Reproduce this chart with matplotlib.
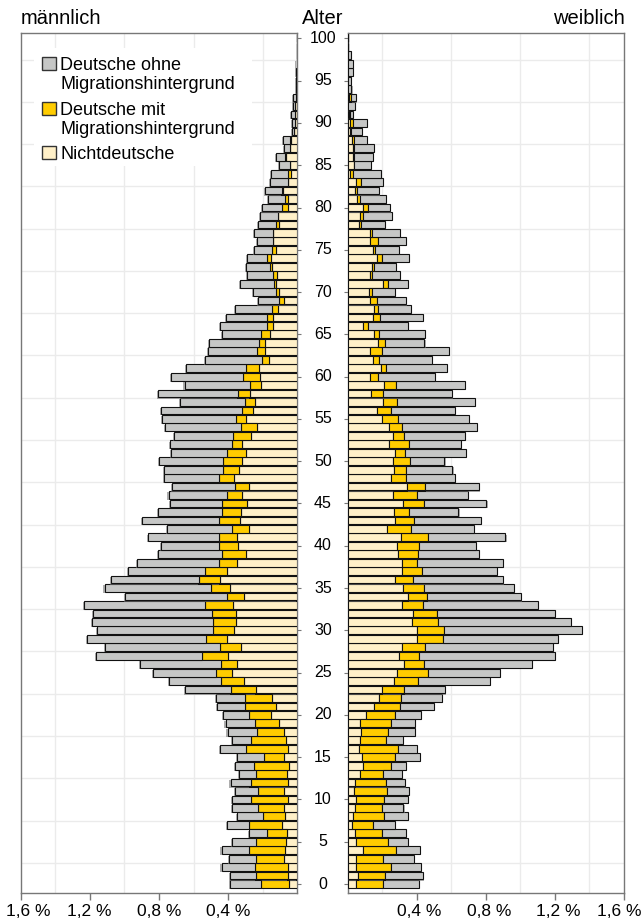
import numpy as np
import matplotlib
matplotlib.use("Agg")
import matplotlib.pyplot as plt
import matplotlib.patheffects as pe
from matplotlib.patches import Rectangle
from matplotlib.transforms import blended_transform_factory, ScaledTranslation

plt.rcParams['font.family'] = ['Liberation Sans', 'DejaVu Sans']

ages = np.arange(0, 101)

# männlich (% of total population)
m_ohne = [
    0.178, 0.155, 0.193, 0.156, 0.160, 0.139, 0.100, 0.122, 0.149, 0.149,
    0.106, 0.135, 0.116, 0.097, 0.112, 0.156, 0.149, 0.106, 0.170, 0.170,
    0.151, 0.164, 0.168, 0.263, 0.301, 0.367, 0.464, 0.612, 0.663, 0.690,
    0.670, 0.701, 0.692, 0.703, 0.589, 0.614, 0.508, 0.448, 0.473, 0.367,
    0.336, 0.410, 0.373, 0.442, 0.367, 0.305, 0.340, 0.363, 0.317, 0.342,
    0.371, 0.323, 0.359, 0.338, 0.440, 0.431, 0.473, 0.373, 0.464, 0.381,
    0.417, 0.342, 0.330, 0.280, 0.290, 0.222, 0.269, 0.236, 0.211, 0.118,
    0.135, 0.195, 0.147, 0.137, 0.116, 0.102, 0.089, 0.106, 0.102, 0.100,
    0.112, 0.097, 0.095, 0.102, 0.099, 0.062, 0.056, 0.033, 0.043, 0.012,
    0.015, 0.023, 0.015, 0.015, 0.003, 0.004, 0.006, 0.003, 0.002, 0.001, 0.0]
m_mit = [
    0.166, 0.184, 0.193, 0.164, 0.207, 0.170, 0.116, 0.191, 0.126, 0.149,
    0.213, 0.149, 0.218, 0.178, 0.203, 0.116, 0.247, 0.205, 0.156, 0.139,
    0.129, 0.174, 0.155, 0.149, 0.135, 0.093, 0.097, 0.151, 0.126, 0.120,
    0.122, 0.135, 0.139, 0.160, 0.102, 0.110, 0.124, 0.126, 0.108, 0.139,
    0.112, 0.108, 0.100, 0.122, 0.112, 0.143, 0.085, 0.081, 0.089, 0.091,
    0.110, 0.106, 0.062, 0.104, 0.091, 0.058, 0.062, 0.058, 0.068, 0.060,
    0.097, 0.075, 0.041, 0.046, 0.035, 0.054, 0.033, 0.037, 0.033, 0.031,
    0.015, 0.010, 0.025, 0.010, 0.023, 0.025, 0.004, 0.003, 0.017, 0.004,
    0.035, 0.015, 0.004, 0.003, 0.014, 0.002, 0.003, 0.002, 0.002, 0.001,
    0.0, 0.0, 0.0, 0.0, 0.0, 0.0, 0.0, 0.0, 0.0, 0.0, 0.0]
m_nicht = [
    0.046, 0.052, 0.052, 0.075, 0.071, 0.066, 0.062, 0.091, 0.071, 0.077,
    0.056, 0.077, 0.052, 0.062, 0.046, 0.075, 0.052, 0.064, 0.077, 0.106,
    0.151, 0.126, 0.145, 0.236, 0.307, 0.375, 0.346, 0.400, 0.323, 0.406,
    0.365, 0.352, 0.352, 0.371, 0.307, 0.390, 0.444, 0.406, 0.346, 0.299,
    0.342, 0.346, 0.280, 0.332, 0.326, 0.290, 0.319, 0.280, 0.365, 0.338,
    0.319, 0.299, 0.317, 0.270, 0.232, 0.294, 0.255, 0.245, 0.274, 0.211,
    0.216, 0.224, 0.162, 0.189, 0.185, 0.158, 0.143, 0.139, 0.114, 0.077,
    0.108, 0.126, 0.116, 0.147, 0.151, 0.124, 0.139, 0.139, 0.106, 0.110,
    0.056, 0.056, 0.085, 0.052, 0.039, 0.043, 0.066, 0.043, 0.039, 0.019,
    0.014, 0.012, 0.012, 0.008, 0.002, 0.002, 0.002, 0.001, 0.001, 0.0, 0.0]

# weiblich
w_ohne = [
    0.205, 0.216, 0.174, 0.178, 0.139, 0.116, 0.139, 0.126, 0.139, 0.122,
    0.137, 0.128, 0.112, 0.112, 0.089, 0.145, 0.106, 0.097, 0.155, 0.139,
    0.151, 0.195, 0.240, 0.240, 0.415, 0.417, 0.620, 0.786, 0.742, 0.668,
    0.798, 0.769, 0.684, 0.667, 0.547, 0.522, 0.522, 0.437, 0.502, 0.354,
    0.328, 0.450, 0.369, 0.390, 0.288, 0.363, 0.294, 0.315, 0.284, 0.269,
    0.201, 0.354, 0.301, 0.354, 0.435, 0.412, 0.373, 0.450, 0.396, 0.398,
    0.328, 0.352, 0.309, 0.384, 0.228, 0.269, 0.232, 0.251, 0.189, 0.166,
    0.133, 0.118, 0.162, 0.129, 0.158, 0.139, 0.164, 0.162, 0.139, 0.166,
    0.126, 0.147, 0.129, 0.129, 0.164, 0.095, 0.108, 0.116, 0.070, 0.062,
    0.081, 0.021, 0.039, 0.029, 0.021, 0.017, 0.029, 0.029, 0.019, 0.0, 0.0]
w_mit = [
    0.158, 0.156, 0.199, 0.158, 0.193, 0.182, 0.153, 0.122, 0.176, 0.158,
    0.166, 0.187, 0.178, 0.131, 0.160, 0.189, 0.226, 0.151, 0.156, 0.176,
    0.166, 0.153, 0.122, 0.126, 0.141, 0.178, 0.120, 0.120, 0.131, 0.147,
    0.160, 0.151, 0.139, 0.122, 0.110, 0.118, 0.106, 0.116, 0.085, 0.116,
    0.131, 0.155, 0.137, 0.106, 0.087, 0.122, 0.141, 0.104, 0.089, 0.071,
    0.099, 0.056, 0.112, 0.060, 0.075, 0.093, 0.083, 0.083, 0.071, 0.066,
    0.048, 0.029, 0.035, 0.071, 0.043, 0.025, 0.029, 0.041, 0.027, 0.039,
    0.017, 0.027, 0.010, 0.010, 0.031, 0.008, 0.043, 0.014, 0.015, 0.019,
    0.029, 0.021, 0.012, 0.025, 0.017, 0.004, 0.008, 0.006, 0.015, 0.008,
    0.017, 0.004, 0.0, 0.010, 0.0, 0.0, 0.0, 0.0, 0.0, 0.0, 0.0]
w_nicht = [
    0.048, 0.062, 0.052, 0.048, 0.087, 0.052, 0.044, 0.025, 0.033, 0.044,
    0.048, 0.039, 0.043, 0.073, 0.091, 0.083, 0.068, 0.071, 0.077, 0.073,
    0.106, 0.151, 0.185, 0.199, 0.269, 0.286, 0.325, 0.296, 0.315, 0.404,
    0.400, 0.373, 0.377, 0.313, 0.348, 0.323, 0.274, 0.313, 0.315, 0.290,
    0.284, 0.309, 0.228, 0.276, 0.267, 0.319, 0.261, 0.344, 0.251, 0.267,
    0.261, 0.276, 0.242, 0.265, 0.238, 0.197, 0.168, 0.203, 0.137, 0.214,
    0.131, 0.193, 0.145, 0.131, 0.174, 0.155, 0.091, 0.145, 0.151, 0.131,
    0.122, 0.207, 0.129, 0.141, 0.168, 0.149, 0.131, 0.129, 0.064, 0.070,
    0.091, 0.054, 0.043, 0.052, 0.015, 0.035, 0.029, 0.033, 0.025, 0.015,
    0.014, 0.008, 0.004, 0.008, 0.002, 0.002, 0.002, 0.002, 0.0, 0.0, 0.0]

series_lines = [["Deutsche ohne", "Migrationshintergrund"],
                ["Deutsche mit", "Migrationshintergrund"],
                ["Nichtdeutsche"]]
x_ticks = [0.4, 0.8, 1.2, 1.6]
x_ticklabels = ["0,4 %", "0,8 %", "1,2 %", "1,6 %"]
age_labels = list(range(0, 101, 5))

C_OHNE = "#c6c7c6"
C_MIT = "#ffcc00"
C_NICHT = "#fff0c8"
EDGE = "#111111"
SPINE = "#777777"
GRID = "#ebebeb"

W, H = 643, 919
fig = plt.figure(figsize=(W / 100, H / 100), dpi=100)

top_px, bot_px = 33.3, 893
ax_l = fig.add_axes([20.5 / W, 1 - bot_px / H, (297.3 - 20.5) / W, (bot_px - top_px) / H])
ax_r = fig.add_axes([347.5 / W, 1 - bot_px / H, (624 - 347.5) / W, (bot_px - top_px) / H])

for ax, ohne, mit, nicht, sdx in ((ax_l, m_ohne, m_mit, m_nicht, -0.8),
                                  (ax_r, w_ohne, w_mit, w_nicht, 0.8)):
    ohne = np.array(ohne); mit = np.array(mit); nicht = np.array(nicht)
    effects = [pe.SimplePatchShadow(offset=(sdx, -0.8), shadow_rgbFace='#777777', alpha=0.6),
               pe.Normal()]
    kw = dict(height=0.92, edgecolor=EDGE, linewidth=0.8, zorder=3)
    for vals, left, col in ((nicht, 0, C_NICHT), (mit, nicht, C_MIT), (ohne, nicht + mit, C_OHNE)):
        bars = ax.barh(ages, vals, left=left, color=col, **kw)
        for b in bars:
            b.set_path_effects(effects)
    ax.set_ylim(-1.06, 100.6)
    ax.set_xticks(np.arange(0, 1.61, 0.2), minor=True)
    ax.set_yticks(np.arange(0, 101, 2.5), minor=True)
    ax.grid(True, which='minor', color=GRID, linewidth=1.0, zorder=0)
    ax.set_axisbelow(True)
    ax.set_xticks(x_ticks)
    ax.set_xticklabels(x_ticklabels, fontsize=12.5)
    ax.set_yticks(age_labels)
    ax.set_yticklabels([])
    ax.tick_params(axis='x', which='major', length=5, width=1, color=SPINE, pad=3)
    ax.tick_params(axis='both', which='minor', length=0)
    for sp in ax.spines.values():
        sp.set_color(SPINE)
        sp.set_linewidth(1.0)

ax_l.set_xlim(1.6, 0)
ax_r.set_xlim(0, 1.6)
ax_l.yaxis.tick_right()
ax_l.tick_params(axis='y', which='major', length=3, color=SPINE, direction='out')
ax_r.tick_params(axis='y', which='major', length=3, color=SPINE, direction='out')

# shift outermost tick labels inward so they stay inside the figure
def shift(lbl, dx_px):
    lbl.set_transform(lbl.get_transform() + ScaledTranslation(dx_px / 100, 0, fig.dpi_scale_trans))

shift(ax_l.get_xticklabels()[3], 8)
shift(ax_r.get_xticklabels()[3], -5)
for i in range(3):
    shift(ax_r.get_xticklabels()[i], 3)

# centre age labels
tr = blended_transform_factory(fig.transFigure, ax_r.transData)
for a in age_labels:
    ax_r.text(323 / W, a, str(a), transform=tr, ha='center', va='center', fontsize=11.5,
              clip_on=False)

# header labels
fig.text(21 / W, 1 - 24 / H, "männlich", ha='left', va='baseline', fontsize=14.5)
fig.text(323 / W, 1 - 24 / H, "Alter", ha='center', va='baseline', fontsize=14.5)
fig.text(625 / W, 1 - 24 / H, "weiblich", ha='right', va='baseline', fontsize=14.5)

# legend (drawn manually: handles aligned with first text line)
ax_l.add_patch(Rectangle((34 / W, 1 - 166 / H), 218 / W, 118 / H, transform=fig.transFigure,
                         facecolor='white', edgecolor='none', zorder=1))
leg_colors = [C_OHNE, C_MIT, C_NICHT]
leg_base = [70, 115, 159.3]
line_gap = 18.8
for col, lines, yb in zip(leg_colors, series_lines, leg_base):
    fig.patches.append(Rectangle((42 / W, 1 - yb / H), 14 / W, 13.5 / H,
                                 transform=fig.transFigure, facecolor=col,
                                 edgecolor='#333333', linewidth=1.0, zorder=6))
    for k, txt in enumerate(lines):
        fig.text(60 / W, 1 - (yb + k * line_gap) / H, txt, ha='left', va='baseline',
                 fontsize=13)

fig.savefig("out.png", dpi=100)
